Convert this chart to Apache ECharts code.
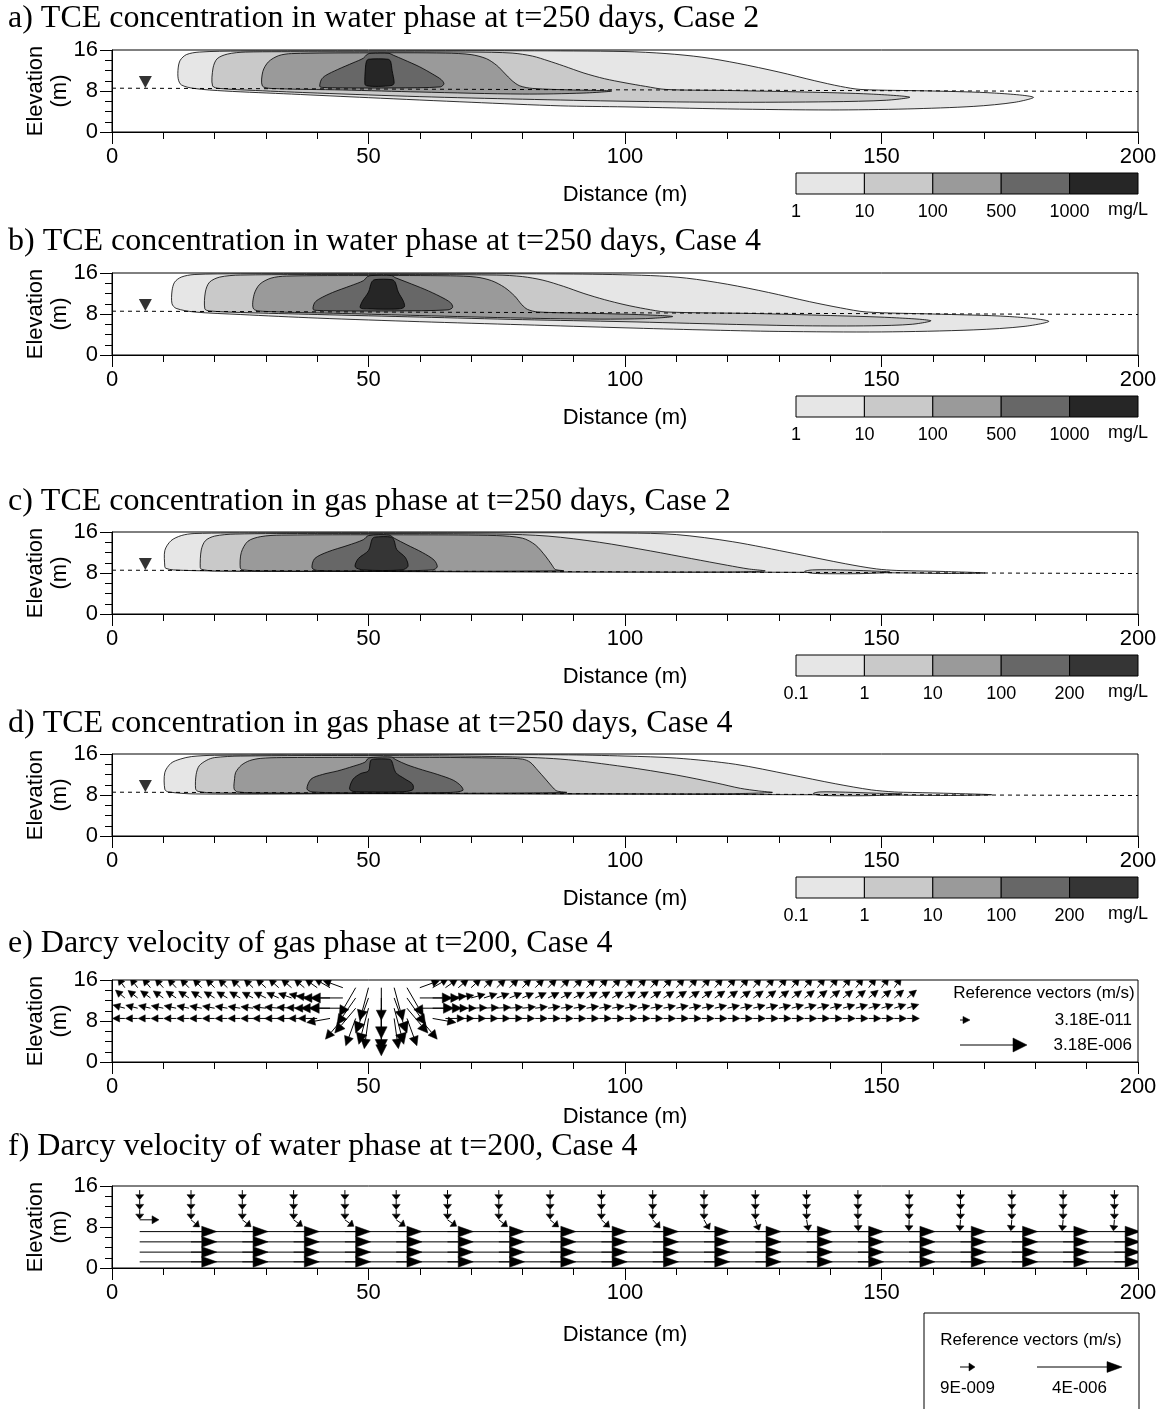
<!DOCTYPE html>
<html><head><meta charset="utf-8">
<script src="https://cdn.jsdelivr.net/npm/echarts/dist/echarts.min.js"></script>
<style>html,body{margin:0;padding:0;background:#fff}#c{width:1168px;height:1409px}</style>
</head><body><div id="c"></div><script>
// ---------------- DATA ----------------
const TITLES = [
  'a) TCE concentration in water phase at t=250 days, Case 2',
  'b) TCE concentration in water phase at t=250 days, Case 4',
  'c) TCE concentration in gas phase at t=250 days, Case 2',
  'd) TCE concentration in gas phase at t=250 days, Case 4',
  'e) Darcy velocity of gas phase at t=200, Case 4',
  'f) Darcy velocity of water phase at t=200, Case 4'
];
const WATER_LEVELS = ['1','10','100','500','1000'];
const GAS_LEVELS = ['0.1','1','10','100','200'];
const CONC_UNIT = 'mg/L';
const WATER_TABLE = [[0, 8.55], [200, 7.9]];
const WT_MARK = [6.5, 8.6];

// panel a (water, case 2) contour polygons [distance, elevation]
const A_L1 = [[12.9,10.4],[12.9,12.5],[13.3,14.0],[14.5,15.1],[17,15.6],[25,15.8],[50,15.85],[80,15.85],[100,15.7],[108,15.3],[115,14.6],[122,13.4],[130,11.7],[137,10.0],[142,8.9],[146,8.3],[160,8.0],[172,7.6],[179.6,6.8],[176,5.8],[168,5.0],[155,4.5],[140,4.3],[120,4.5],[100,4.9],[87.5,5.1],[70,5.8],[50,6.7],[35,7.4],[22,8.0],[16,8.5],[13.5,9.2]];
const A_L2 = [[19.6,9.0],[19.7,12.5],[20.5,14.3],[22.5,15.2],[26,15.6],[40,15.65],[70,15.6],[78,15.4],[82,14.8],[85,13.9],[88,12.9],[92,11.5],[96,10.4],[100,9.6],[104,8.9],[108,8.3],[120,8.1],[135,7.8],[148,7.4],[155.5,6.8],[151,6.2],[140,5.9],[120,5.8],[100,6.0],[80,6.4],[60,6.9],[40,7.6],[28,8.1],[21,8.5]];
const A_L3 = [[29.3,9.0],[29.4,11.8],[30.5,13.7],[32.5,14.9],[35,15.3],[50,15.45],[65,15.4],[70,15.1],[73,14.3],[75,13],[76.5,11.5],[78,10],[79.5,9.0],[82,8.5],[90,8.2],[97.4,8.0],[92,7.6],[80,7.4],[60,7.8],[45,8.2],[31,8.5]];
const A_L4 = [[40.5,8.9],[40.8,10.2],[41.6,11.0],[44,12.2],[47,13.5],[49,14.4],[49.8,15.2],[50.5,15.35],[54,15.35],[54.8,15.0],[56.9,14.1],[60,12.7],[62.5,11.3],[64.2,10.2],[64.7,9.4],[64,8.8],[55,8.6],[45,8.6],[41,8.7]];
const A_L5 = [[49.3,9.3],[49.4,12.5],[49.6,13.8],[50,14.2],[53.8,14.2],[54.3,13.8],[54.6,12],[55,9.6],[54.6,9.1],[52,8.9],[49.7,9.0]];
// panel b (water, case 4)
const B_L1 = [[11.7,10.0],[11.7,12.5],[12.2,14.2],[13.5,15.2],[16,15.7],[25,15.85],[60,15.85],[90,15.8],[105,15.5],[112,15.0],[120,13.8],[128,12.2],[136,10.4],[142,9.2],[147,8.4],[160,8.0],[175,7.5],[182.6,6.6],[178,5.6],[168,4.9],[150,4.5],[130,4.6],[115,4.9],[100,5.3],[80,5.9],[60,6.5],[40,7.2],[25,7.9],[16,8.4],[12.5,9.1]];
const B_L2 = [[18.1,9.0],[18.2,12.3],[19,14.2],[21,15.2],[25,15.6],[50,15.7],[75,15.6],[80,15.3],[84,14.6],[88,13.4],[92,12.0],[96,10.8],[100,9.8],[104,9.0],[108,8.4],[125,8.1],[140,7.7],[152,7.3],[159.6,6.7],[156,6.0],[148,5.7],[135,5.7],[120,6.0],[100,6.5],[80,6.9],[60,7.4],[40,7.9],[25,8.3],[19,8.6]];
const B_L3 = [[27.6,9.0],[27.7,11.8],[28.8,13.8],[31,15.0],[34,15.4],[50,15.5],[66,15.45],[71,15.2],[74,14.5],[76.5,13.2],[78.5,11.5],[79.9,9.8],[81,8.9],[83,8.4],[95,8.1],[105,7.8],[109.3,7.5],[104,7.1],[95,7.0],[80,7.2],[60,7.7],[45,8.1],[30,8.5]];
const B_L4 = [[39.2,8.9],[39.5,10.2],[40.5,11.0],[43,12.2],[46.5,13.5],[49,14.5],[49.8,15.3],[50.5,15.5],[54.5,15.5],[55.2,15.1],[57.5,14.2],[61,12.8],[64,11.4],[66,10.2],[66.4,9.3],[65.5,8.8],[55,8.6],[45,8.6],[40,8.7]];
const B_L5 = [[48.4,9.2],[48.8,10.5],[50.0,12.3],[50.6,14.2],[51.2,14.7],[54.6,14.7],[55.2,14.2],[55.8,12.3],[56.8,10.5],[57.0,9.4],[56,9.0],[50,9.0]];
// panel c (gas, case 2)
const C_L1 = [[10.3,9.2],[10.3,12.4],[11.5,14.3],[13.5,15.3],[16,15.7],[30,15.85],[70,15.85],[100,15.8],[110,15.5],[121,14.1],[133,11.8],[143,9.8],[149,8.8],[153,8.5],[162,8.3],[170.2,8.0],[163,7.9],[155,8.0],[145,8.1],[100,8.2],[50,8.3],[20,8.4],[12,8.6],[10.5,8.9]];
const C_L2 = [[17.2,9.1],[17.4,12.5],[18.2,14.3],[20,15.2],[24,15.6],[40,15.7],[75,15.6],[85,15.2],[95,14.0],[105,12.3],[113,10.8],[120,9.5],[124,8.8],[127.3,8.4],[120,8.2],[100,8.2],[50,8.3],[20,8.4],[17.5,8.7]];
const C_L2B = [[135,8.3],[136.5,8.6],[142,8.6],[148,8.4],[151.6,8.2],[147,7.9],[141,7.85],[136.5,7.95]];
const C_L3 = [[25,9.0],[25.2,12.0],[26.5,14.2],[29,15.1],[33,15.4],[60,15.45],[75,15.3],[80,14.8],[82.5,13.5],[84.5,11.3],[85.8,9.5],[86.4,8.7],[88,8.45],[60,8.3],[30,8.4],[25.5,8.6]];
const C_L4 = [[39,9.0],[39.5,10.8],[42,12.1],[46,13.4],[49,14.5],[50,15.3],[54,15.4],[55,14.8],[57.5,13.5],[60.5,12.0],[62.8,10.5],[63.4,9.2],[62.5,8.6],[50,8.4],[40,8.5]];
const C_L5 = [[47.4,9.2],[48,10.8],[50,12.4],[50.7,14.6],[51.2,15.0],[54.5,15.0],[55,14.3],[55.5,12.6],[57.2,11.0],[57.7,9.3],[56.5,8.6],[49,8.6]];
// panel d (gas, case 4)
const D_L1 = [[10.3,9.1],[10.3,12.4],[11.5,14.2],[13.3,15.0],[15.5,15.5],[20,15.75],[50,15.85],[87.5,15.85],[100,15.6],[110,15.2],[121.5,14.0],[132,12.0],[141,10.2],[148,9.0],[152.5,8.6],[156,8.5],[164,8.3],[171.5,8.05],[163,7.9],[150,8.0],[100,8.15],[50,8.25],[16.3,8.2],[11,8.6]];
const D_L2 = [[16.3,9.2],[16.4,12.0],[17,13.7],[18.5,14.8],[20,15.3],[25,15.6],[50,15.7],[75,15.5],[87.5,15.0],[100,13.5],[110,11.9],[118,10.3],[122.5,9.3],[126,8.8],[128.7,8.5],[120,8.25],[100,8.25],[50,8.3],[20,8.4],[16.8,8.7]];
const D_L2B = [[136.7,8.3],[138,8.6],[143,8.55],[149,8.35],[154,8.2],[149,7.9],[143,7.85],[138,7.95]];
const D_L3 = [[23.8,9.2],[23.9,11.2],[24.1,12.4],[25.2,13.8],[26.8,14.7],[29,15.15],[33,15.3],[60,15.35],[76,15.2],[80,15.0],[81.5,14.4],[83,12.8],[84.5,11.1],[85.8,9.6],[86.7,8.8],[88.6,8.5],[60,8.3],[30,8.4],[24.5,8.6]];
const D_L4 = [[38,9.2],[38.8,11.1],[41,12.0],[44,12.7],[47,13.6],[49.3,14.4],[50,15.2],[51,15.35],[54.5,15.4],[55.3,14.9],[57.5,13.9],[60.5,12.9],[63.5,12.0],[66.5,10.9],[68,9.8],[68.4,8.9],[66,8.5],[50,8.4],[39,8.6]];
const D_L5 = [[46.3,9.2],[47,11.1],[48.5,12.2],[50,12.7],[50.4,14.7],[51,15.0],[54,15.0],[54.5,14.7],[55.3,12.4],[57,11.2],[58.6,10.1],[58.6,9.0],[56,8.6],[50,8.6],[47,8.7]];

// panel e: gas Darcy velocity vectors (angle deg, magnitude in 1e-11 m/s)
const E_X = [2.5,5,7.5,10,12.5,15,17.5,20,22.5,25,27.5,30,32.5,35,37.5,40,42.5,45,47.5,50,52.5,55,57.5,60,62.5,65,67.5,70,72.5,75,77.5,80,82.5,85,87.5,90,92.5,95,97.5,100,102.5,105,107.5,110,112.5,115,117.5,120,122.5,125,127.5,130,132.5,135,137.5,140,142.5,145,147.5,150,152.5,155];
const E_Y = [14.5, 12.5, 10.5, 8.5];
const E_MAG_UNIT = 1e-11;
const E_ANG_R1 = [125,128,130,132,133,134,135,135,136,136,137,138,138,140, 140,145,150,160,240,255,270,285,300,20,30,35,40, 42,43,44,45,45,45,46,46,46,47,47,47,48,48,48,48,49,49,49,50,50,50,50,50,51,51,51,52,52,52,53,53,54,55,55];
const E_MAG_R1 = [5,5,5,5,5,5,5,5,5,5,5,6,6,6, 6,8,15,30,300,400,300,400,300,30,15,8,6, 6,5,5,5,5,5,5,5,5,5,5,5,5,5,5,5,5,5,5,5,5,5,5,5,5,5,5,5,5,5,5,5,5,5,0];
const E_ANG_R2 = [140,142,144,145,146,147,148,149,150,150,152,154,156,160, 165,175,180,180,235,250,270,290,305,0,0,5,10, 15,18,20,22,24,25,26,27,28,29,30,30,31,31,32,32,33,33,34,34,35,35,35,36,36,36,37,37,38,38,38,39,39,40,40];
const E_MAG_R2 = [5,5,5,5,5,5,5,5,5,5,5,6,6,7, 10,30,100,300,300,800,1500,800,300,300,100,30,10, 8,7,6,6,5,5,5,5,5,5,5,5,5,5,5,5,5,5,5,5,5,5,5,5,5,5,5,5,5,5,5,5,5,5,5];
const E_ANG_R3 = [165,166,167,168,168,169,170,170,171,172,173,174,175,176, 178,180,180,180,230,255,270,285,310,0,0,0,0, 2,3,4,5,6,7,8,8,9,9,10,10,10,11,11,11,12,12,12,13,13,13,14,14,14,15,15,15,16,16,16,17,17,18,18];
const E_MAG_R3 = [5,5,5,5,5,5,5,5,5,5,5,6,7,8, 15,40,150,400,300,800,2800,800,300,400,150,40,15, 10,8,7,6,6,5,5,5,5,5,5,5,5,5,5,5,5,5,5,5,5,5,5,5,5,5,5,5,5,5,5,5,5,5,5];
const E_ANG_R4 = [180,180,180,180,180,180,180,180,180,180,180,180,180,180, 180,180,190,230,250,262,270,278,290,310,350,0,0, 0,0,0,0,0,0,0,0,0,0,0,0,0,0,0,0,0,0,0,0,0,0,0,0,0,0,0,0,0,0,0,0,0,0,0];
const E_MAG_R4 = [5,5,5,5,5,5,5,5,5,5,5,6,7,8, 10,20,50,100,150,200,800,200,150,100,50,20,10, 8,7,6,6,5,5,5,5,5,5,5,5,5,5,5,5,5,5,5,5,5,5,5,5,5,5,5,5,5,5,5,5,5,5,5];
const E_REF_VALUES = [3.18e-11, 3.18e-6];
const E_REF_LABELS = ['3.18E-011', '3.18E-006'];

// panel f: water Darcy velocity vectors (magnitude in 1e-9 m/s)
const F_X = [5.4,15.4,25.4,35.4,45.4,55.4,65.4,75.4,85.4,95.4,105.4,115.4,125.4,135.4,145.4,155.4,165.4,175.4,185.4,195.4];
const F_MAG_UNIT = 1e-9;
const F_DOWN_Y = [15.2, 13.3, 11.4];
const F_DOWN_MAG = [5.6,5.6,5.6,5.6,5.6,5.6,5.6,5.6,5.6,5.6,5.6,5.6,5.6,5.6,5.6,5.6,5.6,5.6,5.6,5.6];
const F_MID_Y = 9.4;
const F_MID_ANG = [0,320,322,324,324,325,325,322,320,318,312,300,290,280,272,268,266,265,265,265];
const F_MID_MAG = [13,6.4,6.4,6.4,6.4,6.4,6.4,6.4,6.4,6.4,6.4,6.4,6.4,6.4,6.4,6.4,6.4,6.4,6.4,6.4];
const F_H_Y = [7.1, 5.1, 3.1, 1.2];
const F_H_MAG = [2000,2000,2000,2000,2000,2000,2000,2000,2000,2000,2000,2000,2000,2000,2000,2000,2000,2000,2000,2000];
const F_REF_VALUES = [9e-9, 4e-6];
const F_REF_LABELS = ['9E-009', '4E-006'];
const REF_TITLE = 'Reference vectors (m/s)';

// ---------------- STYLE / LAYOUT ----------------
const WATER_COLORS = ['#e6e6e6','#c9c9c9','#9a9a9a','#676767','#262626'];
const GAS_COLORS = ['#e6e6e6','#c9c9c9','#9a9a9a','#676767','#353535'];
const SANS = '"Liberation Sans", Arial, sans-serif';
const SERIF = '"Liberation Serif", "Times New Roman", serif';
const GL = 112, GW = 1026, GH = 82;
const GRID_TOPS = [50, 273, 532, 754, 980, 1186];
const TITLE_Y = [20, 243, 503, 725, 945, 1148];
const NAME_GAPS = [52, 52, 52, 52, 44, 56];
const E_REF_LEN = [10, 67];
const F_REF_LEN = [15, 85];
const E_HEAD = { min: 7, max: 14, k: 0.2, c: 3.5, w: 0.5, wmin: 3.6 };
const F_HEAD = { min: 5, max: 15, k: 0.2, c: 3, w: 0.36, wmin: 4 };

function logScale(vals, lens) {
  const a = Math.log10(vals[0]), b = Math.log10(vals[1]);
  return v => lens[0] + (lens[1] - lens[0]) * (Math.log10(v) - a) / (b - a);
}
const eLen = logScale(E_REF_VALUES, E_REF_LEN);
const fLen = logScale(F_REF_VALUES, F_REF_LEN);

function arrowShape(p, angDeg, L, H) {
  const r = angDeg * Math.PI / 180;
  const dx = Math.cos(r), dy = -Math.sin(r);
  const tip = [p[0] + dx * L, p[1] + dy * L];
  const hl = Math.min(H.max, Math.max(H.min, H.k * L + H.c));
  const hw = Math.max(H.wmin, hl * H.w);
  const base = [tip[0] - dx * hl, tip[1] - dy * hl];
  const nx = -dy, ny = dx;
  return {
    type: 'group',
    children: [
      { type: 'line', shape: { x1: p[0], y1: p[1], x2: base[0], y2: base[1] }, style: { stroke: '#000', lineWidth: 1 } },
      { type: 'polygon', shape: { points: [tip, [base[0] + nx * hw, base[1] + ny * hw], [base[0] - nx * hw, base[1] - ny * hw]] }, style: { fill: '#000', stroke: '#000', lineWidth: 0.5 } }
    ]
  };
}

// ---------------- BUILD ----------------
const PANELS = [
  { polys: [A_L1, A_L2, A_L3, A_L4, A_L5], lv: [0,1,2,3,4], colors: WATER_COLORS, levels: WATER_LEVELS },
  { polys: [B_L1, B_L2, B_L3, B_L4, B_L5], lv: [0,1,2,3,4], colors: WATER_COLORS, levels: WATER_LEVELS },
  { polys: [C_L1, C_L2, C_L2B, C_L3, C_L4, C_L5], lv: [0,1,1,2,3,4], colors: GAS_COLORS, levels: GAS_LEVELS },
  { polys: [D_L1, D_L2, D_L2B, D_L3, D_L4, D_L5], lv: [0,1,1,2,3,4], colors: GAS_COLORS, levels: GAS_LEVELS }
];

const grids = [], xAxes = [], yAxes = [], series = [], graphic = [];
for (let i = 0; i < 6; i++) {
  grids.push({ left: GL, width: GW, top: GRID_TOPS[i], height: GH, show: true, borderColor: '#000', borderWidth: 1, backgroundColor: 'rgba(0,0,0,0)', containLabel: false, outerBoundsMode: 'none' });
  xAxes.push({
    gridIndex: i, type: 'value', min: 0, max: 200, interval: 50,
    axisLine: { onZero: false, lineStyle: { color: '#000', width: 1 } },
    axisTick: { show: true, length: 12, lineStyle: { color: '#000', width: 1 } },
    minorTick: { show: true, splitNumber: 5, length: 7, lineStyle: { color: '#000', width: 1 } },
    splitLine: { show: false }, minorSplitLine: { show: false },
    axisLabel: { color: '#000', fontSize: 22, fontFamily: SANS, margin: 14 },
    name: 'Distance (m)', nameLocation: 'middle', nameGap: NAME_GAPS[i], nameMoveOverlap: false,
    nameTextStyle: { color: '#000', fontSize: 22, fontFamily: SANS }
  });
  yAxes.push({
    gridIndex: i, type: 'value', min: 0, max: 16, interval: 8,
    axisLine: { show: true, onZero: false, lineStyle: { color: '#000', width: 1 } },
    axisTick: { show: true, length: 12, lineStyle: { color: '#000', width: 1 } },
    minorTick: { show: true, splitNumber: 4, length: 7, lineStyle: { color: '#000', width: 1 } },
    splitLine: { show: false }, minorSplitLine: { show: false },
    axisLabel: { color: '#000', fontSize: 22, fontFamily: SANS, margin: 14 },
    name: 'Elevation\n(m)', nameLocation: 'middle', nameRotate: 90, nameGap: 40, nameMoveOverlap: false,
    nameTextStyle: { color: '#000', fontSize: 22, fontFamily: SANS, lineHeight: 24, align: 'center' }
  });
  graphic.push({ type: 'text', left: 8, top: TITLE_Y[i] - 17, style: { text: TITLES[i], fill: '#000', fontSize: 32, fontFamily: SERIF } });
}

PANELS.forEach((P, i) => {
  series.push({
    type: 'custom', xAxisIndex: i, yAxisIndex: i, data: [[0, 0]], silent: true, clip: true, z: 2,
    renderItem: (params, api) => ({
      type: 'group',
      children: P.polys.map((poly, k) => ({
        type: 'polygon',
        shape: { points: poly.map(q => api.coord(q)), smooth: 0.3 },
        style: { fill: P.colors[P.lv[k]], stroke: '#000', lineWidth: 0.8 }
      }))
    })
  });
  series.push({
    type: 'line', xAxisIndex: i, yAxisIndex: i, data: WATER_TABLE, symbol: 'none', silent: true, z: 4,
    lineStyle: { color: '#000', width: 1, type: [4, 4] }
  });
  series.push({
    type: 'scatter', xAxisIndex: i, yAxisIndex: i, data: [WT_MARK], symbol: 'triangle', symbolRotate: 180,
    symbolSize: [13, 12], symbolOffset: [0, '-50%'], itemStyle: { color: '#000' }, silent: true, z: 5
  });
  const axisY = GRID_TOPS[i] + GH;
  const cbTop = axisY + 41, cbLeft = 796, cw = 68.4;
  P.colors.forEach((c, k) => {
    graphic.push({ type: 'rect', shape: { x: cbLeft + k * cw, y: cbTop, width: cw, height: 21 }, style: { fill: c, stroke: '#000', lineWidth: 1 } });
  });
  P.levels.forEach((t, k) => {
    graphic.push({ type: 'text', x: cbLeft + k * cw, y: cbTop + 39, style: { text: t, fill: '#000', fontSize: 18, fontFamily: SANS, align: 'center', verticalAlign: 'middle' } });
  });
  graphic.push({ type: 'text', x: 1128, y: cbTop + 37, style: { text: CONC_UNIT, fill: '#000', fontSize: 18, fontFamily: SANS, align: 'center', verticalAlign: 'middle' } });
});

// panel e vectors
const eData = [];
[E_ANG_R1, E_ANG_R2, E_ANG_R3, E_ANG_R4].forEach((angs, r) => {
  const mags = [E_MAG_R1, E_MAG_R2, E_MAG_R3, E_MAG_R4][r];
  E_X.forEach((x, c) => { if (mags[c] > 0) eData.push([x, E_Y[r], angs[c], mags[c] * E_MAG_UNIT]); });
});
series.push({
  type: 'custom', xAxisIndex: 4, yAxisIndex: 4, data: eData, silent: true, clip: true, z: 3,
  renderItem: (params, api) => arrowShape(api.coord([api.value(0), api.value(1)]), api.value(2), eLen(api.value(3)), E_HEAD)
});
// panel f vectors
const fData = [];
F_X.forEach((x, c) => {
  F_DOWN_Y.forEach(y => fData.push([x, y, 270, F_DOWN_MAG[c] * F_MAG_UNIT]));
  fData.push([x, F_MID_Y, F_MID_ANG[c], F_MID_MAG[c] * F_MAG_UNIT]);
  F_H_Y.forEach(y => fData.push([x, y, 0, F_H_MAG[c] * F_MAG_UNIT]));
});
series.push({
  type: 'custom', xAxisIndex: 5, yAxisIndex: 5, data: fData, silent: true, clip: true, z: 3,
  renderItem: (params, api) => arrowShape(api.coord([api.value(0), api.value(1)]), api.value(2), fLen(api.value(3)), F_HEAD)
});

// reference vector legends
graphic.push({ type: 'text', x: 1044, y: 993, style: { text: REF_TITLE, fill: '#000', fontSize: 17, fontFamily: SANS, align: 'center', verticalAlign: 'middle' } });
[1020, 1045].forEach((yy, k) => {
  graphic.push(arrowShape([960, yy], 0, eLen(E_REF_VALUES[k]), E_HEAD));
  graphic.push({ type: 'text', x: 1132, y: yy, style: { text: E_REF_LABELS[k], fill: '#000', fontSize: 17, fontFamily: SANS, align: 'right', verticalAlign: 'middle' } });
});
graphic.push({ type: 'rect', shape: { x: 924, y: 1313, width: 215, height: 110 }, style: { fill: 'none', stroke: '#000', lineWidth: 1 } });
graphic.push({ type: 'text', x: 1031, y: 1340, style: { text: REF_TITLE, fill: '#000', fontSize: 17, fontFamily: SANS, align: 'center', verticalAlign: 'middle' } });
[960, 1037].forEach((xx, k) => {
  const L = fLen(F_REF_VALUES[k]);
  graphic.push(arrowShape([xx, 1367], 0, L, F_HEAD));
  graphic.push({ type: 'text', x: xx + L / 2, y: 1388, style: { text: F_REF_LABELS[k], fill: '#000', fontSize: 17, fontFamily: SANS, align: 'center', verticalAlign: 'middle' } });
});

const chart = echarts.init(document.getElementById('c'), null, { renderer: 'canvas' });
chart.setOption({
  animation: false,
  backgroundColor: '#fff',
  grid: grids, xAxis: xAxes, yAxis: yAxes, series, graphic
});
</script></body></html>
